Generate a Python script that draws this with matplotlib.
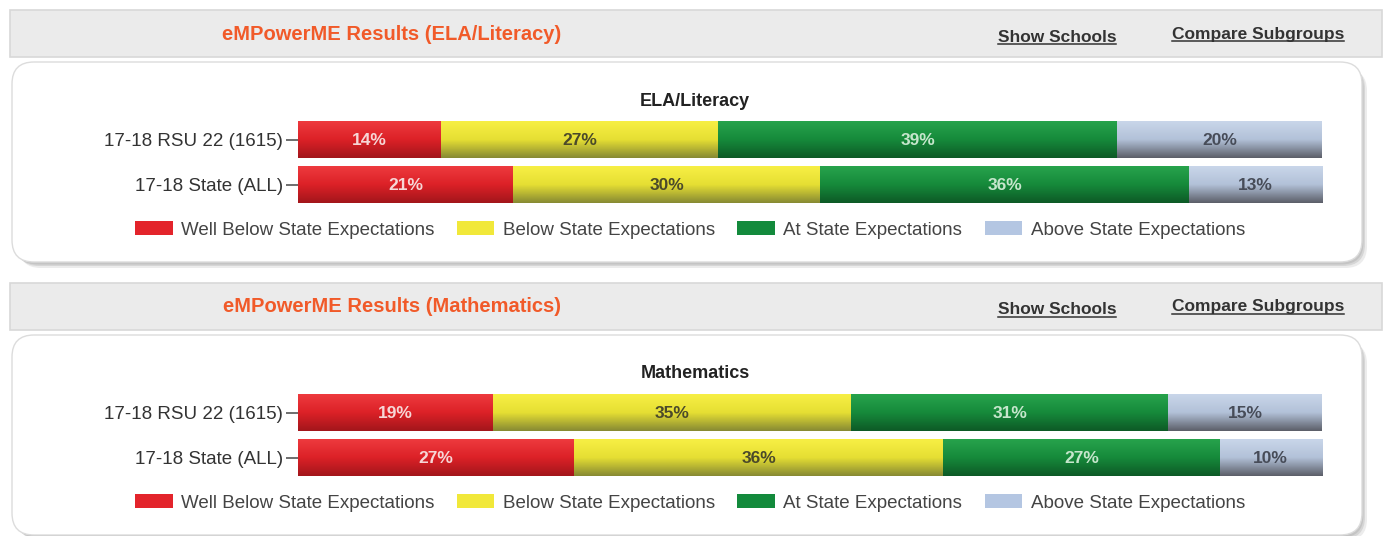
import numpy as np
import matplotlib
matplotlib.use("Agg")
import matplotlib.pyplot as plt
from matplotlib.patches import FancyBboxPatch, Rectangle, Patch
from matplotlib.colors import LinearSegmentedColormap

plt.rcParams['font.family'] = ['Liberation Sans', 'DejaVu Sans']

# data
groups = ['17-18 RSU 22 (1615)', '17-18 State (ALL)']
levels = ['Well Below State Expectations', 'Below State Expectations',
          'At State Expectations', 'Above State Expectations']
ela = [[14, 27, 39, 20], [21, 30, 36, 13]]
math_ = [[19, 35, 31, 15], [27, 36, 27, 10]]
panel_titles = ['eMPowerME Results (ELA/Literacy)', 'eMPowerME Results (Mathematics)']
chart_titles = ['ELA/Literacy', 'Mathematics']
links = ['Show Schools', 'Compare Subgroups']

# gradient stops (top, middle, bottom) and legend colour per level
grads = [('#ee3a3e', '#dc2127', '#a3161b'),
         ('#f7ef45', '#e6df33', '#878a33'),
         ('#27a34c', '#168a3b', '#0d5a26'),
         ('#c9d6ea', '#b2c1d8', '#5c5f69')]
legend_cols = ['#e3242b', '#f1e83a', '#138a3c', '#b4c6e2']
label_cols = ['#f6d6d6', '#4b4a2a', '#c6e6cc', '#474c58']

W, H = 1391, 536
fig = plt.figure(figsize=(W / 100, H / 100), dpi=100)
fig.patch.set_facecolor('white')

bg = fig.add_axes([0, 0, 1, 1])
bg.set_xlim(0, W)
bg.set_ylim(H, 0)
bg.axis('off')


def fy(y):
    return 1 - y / H


def draw_panel(off, values, ptitle, ctitle):
    # header strip
    bg.add_patch(Rectangle((10, 10 + off), 1372, 47, facecolor='#ebebeb',
                           edgecolor='#d8d8d8', lw=1.2))
    bg.text(392, 34 + off, ptitle, color='#f15a29', fontsize=14.5,
            fontweight='bold', ha='center', va='center')
    link_x = [1057, 1258]
    link_y = [37, 34]
    for lx, ly, txt in zip(link_x, link_y, links):
        t = bg.text(lx, ly + off, txt, color='#333333', fontsize=12.5,
                    fontweight='bold', ha='center', va='center')
        fig.canvas.draw()
        bb = t.get_window_extent().transformed(bg.transData.inverted())
        bg.plot([bb.x0, bb.x1], [bb.y0 - 1, bb.y0 - 1], color='#333333', lw=1.1)

    # rounded white box with soft shadow
    for d, c in [(5, '#ececec'), (3, '#d6d6d6'), (1.5, '#c4c4c4')]:
        bg.add_patch(FancyBboxPatch((14 + d, 64 + off + d), 1348, 199,
                                    boxstyle='round,pad=0,rounding_size=22',
                                    facecolor=c, edgecolor='none'))
    bg.add_patch(FancyBboxPatch((12, 62 + off), 1350, 200,
                                boxstyle='round,pad=0,rounding_size=22',
                                facecolor='white', edgecolor='#dcdcdc', lw=1))
    bg.text(695, 101 + off, ctitle, fontsize=13, fontweight='bold',
            color='#222222', ha='center', va='center')

    # stacked bars
    ax = fig.add_axes([298 / W, fy(203 + off), 1024 / W, 82 / H])
    ax.patch.set_alpha(0)
    ypos = np.arange(len(groups))
    h = 37 / 45
    vals = np.array(values)
    left = np.zeros(len(groups))
    for j in range(len(levels)):
        cmap = LinearSegmentedColormap.from_list('g%d' % j, grads[j])
        grad = np.linspace(0, 1, 64).reshape(-1, 1)
        bars = ax.barh(ypos, vals[:, j], left=left, height=h,
                       color=grads[j][1], edgecolor='none')
        for b, v in zip(bars, vals[:, j]):
            x0, y0 = b.get_x(), b.get_y()
            im = ax.imshow(grad, cmap=cmap, aspect='auto', origin='upper',
                           extent=(x0, x0 + b.get_width(), y0 + h, y0),
                           interpolation='bilinear', zorder=2)
            im.set_clip_path(b)
            ax.text(x0 + b.get_width() / 2, y0 + h / 2 + 0.02, '%d%%' % v,
                    ha='center', va='center', fontsize=12.5,
                    fontweight='bold', color=label_cols[j], zorder=3)
        left += vals[:, j]
    ax.set_xlim(0, 100)
    ax.set_ylim(0.5 + 41 / 45, 0.5 - 41 / 45)
    ax.set_yticks(ypos)
    ax.set_yticklabels(groups, fontsize=13.5, color='#333333')
    ax.tick_params(axis='y', length=9, width=1.2, color='#555555', pad=2)
    ax.set_xticks([])
    for s in ax.spines.values():
        s.set_visible(False)

    handles = [Patch(facecolor=c, edgecolor='none') for c in legend_cols]
    fig.legend(handles, levels, ncol=4, loc='center',
               bbox_to_anchor=(690 / W, fy(230 + off)), frameon=False,
               fontsize=13.5, handlelength=2.0, handleheight=0.7,
               handletextpad=0.45, columnspacing=1.2, labelcolor='#444444')


draw_panel(0, ela, panel_titles[0], chart_titles[0])
draw_panel(273, math_, panel_titles[1], chart_titles[1])

fig.savefig('out.png', dpi=100)
